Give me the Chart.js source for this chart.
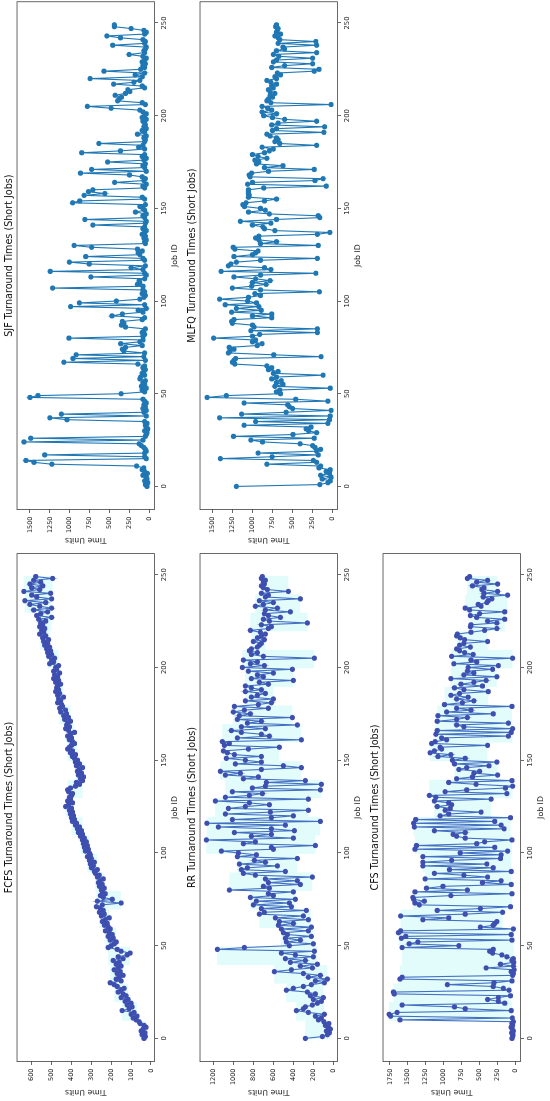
<!DOCTYPE html>
<html>
<head>
<meta charset="utf-8">
<title>Turnaround Times (Short Jobs)</title>
<script src="https://cdn.jsdelivr.net/npm/chart.js@4.4.1/dist/chart.umd.min.js"></script>
<style>
  html, body { margin: 0; padding: 0; background: #fff; overflow: hidden; }
  /* the figure is laid out landscape, then turned a quarter turn to the left */
  #figure {
    position: absolute; left: 0; top: 0;
    width: 1101px; height: 550px;
    transform-origin: 0 0;
    transform: translateY(1101px) rotate(-90deg);
    background: #fff;
  }
  #figure canvas { position: absolute; }
</style>
</head>
<body>
<div id="figure">
  <canvas id="chartFCFS" width="552" height="181" style="left:0px;top:0px"></canvas>
  <canvas id="chartSJF"  width="549" height="181" style="left:552px;top:0px"></canvas>
  <canvas id="chartRR"   width="552" height="181" style="left:0px;top:183px"></canvas>
  <canvas id="chartMLFQ" width="549" height="181" style="left:552px;top:183px"></canvas>
  <canvas id="chartCFS"  width="552" height="181" style="left:0px;top:366px"></canvas>
</div>
<script>
// Job IDs 0..249
const jobIds = Array.from({ length: 250 }, (_, i) => i);
const jobTicks = [0, 50, 100, 150, 200, 250];

const fcfsTicks = [0, 100, 200, 300, 400, 500, 600];
const rrTicks = [0, 200, 400, 600, 800, 1000, 1200];
const cfsTicks = [0, 250, 500, 750, 1000, 1250, 1500, 1750];
const sjfTicks = [0, 250, 500, 750, 1000, 1250, 1500];
const mlfqTicks = [0, 250, 500, 750, 1000, 1250, 1500];

// Turnaround times (10 jobs per row)
const fcfsTimes = [
  35, 28, 45, 30, 50, 40, 25, 35, 55, 60,
  75, 90, 70, 100, 85, 145, 110, 95, 120, 100,
  130, 115, 150, 125, 140, 165, 150, 135, 170, 185,
  205, 150, 175, 160, 140, 170, 155, 185, 165, 150,
  175, 160, 190, 140, 165, 120, 105, 150, 170, 215,
  200, 185, 175, 205, 190, 215, 195, 210, 230, 205,
  215, 235, 220, 245, 230, 210, 250, 235, 260, 240,
  255, 275, 245, 150, 270, 195, 240, 255, 230, 245,
  250, 235, 260, 245, 265, 255, 240, 270, 260, 280,
  285, 270, 300, 290, 305, 285, 310, 300, 320, 305,
  310, 330, 315, 335, 320, 340, 325, 345, 335, 355,
  345, 365, 350, 370, 360, 380, 375, 395, 385, 400,
  390, 405, 395, 410, 400, 430, 415, 395, 420, 405,
  410, 400, 395, 415, 420, 405, 380, 360, 375, 345,
  355, 340, 365, 350, 370, 360, 345, 375, 360, 380,
  370, 385, 395, 380, 405, 395, 420, 410, 400, 385,
  395, 410, 400, 420, 405, 385, 415, 430, 410, 425,
  420, 405, 435, 415, 440, 425, 455, 430, 460, 445,
  450, 470, 455, 465, 440, 470, 460, 480, 465, 475,
  470, 455, 480, 465, 490, 470, 485, 460, 490, 475,
  480, 465, 510, 490, 500, 485, 515, 500, 520, 505,
  525, 510, 535, 520, 540, 515, 545, 530, 560, 540,
  550, 535, 560, 545, 555, 530, 565, 500, 575, 555,
  520, 590, 500, 560, 610, 530, 635, 500, 575, 600,
  505, 640, 560, 600, 545, 610, 555, 590, 495, 580
];

const rrTimes = [
  280, 110, 60, 40, 70, 30, 50, 80, 45, 95,
  150, 120, 180, 90, 250, 370, 300, 280, 210, 160,
  120, 200, 100, 230, 180, 260, 470, 400, 300, 220,
  90, 180, 60, 250, 130, 300, 590, 420, 210, 330,
  160, 430, 280, 480, 200, 380, 520, 190, 1160, 890,
  440, 200, 470, 330, 480, 220, 460, 500, 250, 520,
  220, 550, 400, 540, 250, 580, 300, 740, 690, 270,
  720, 420, 800, 440, 770, 380, 830, 600, 650, 400,
  1040, 640, 700, 330, 650, 360, 680, 210, 780, 900,
  480, 920, 860, 560, 940, 680, 790, 360, 960, 770,
  950, 1120, 600, 620, 180, 900, 780, 1270, 400, 820,
  620, 990, 390, 620, 1150, 480, 1265, 130, 1010, 620,
  400, 1080, 630, 250, 1050, 880, 640, 840, 1180, 250,
  1080, 840, 710, 1010, 130, 810, 680, 120, 670, 280,
  900, 750, 1080, 930, 1130, 720, 320, 500, 980, 720,
  880, 1070, 720, 990, 1060, 1100, 850, 540, 1090, 1040,
  1110, 320, 960, 640, 720, 920, 1020, 680, 920, 360,
  860, 720, 960, 410, 940, 830, 1000, 890, 650, 990,
  750, 620, 880, 600, 820, 760, 680, 880, 720, 820,
  880, 650, 740, 400, 820, 700, 760, 600, 850, 410,
  910, 690, 830, 760, 900, 190, 700, 820, 760, 840,
  820, 760, 740, 720, 800, 690, 760, 720, 680, 730,
  830, 650, 620, 720, 260, 640, 700, 530, 650, 690,
  430, 680, 560, 780, 700, 600, 740, 330, 680, 650,
  720, 450, 660, 700, 720, 690, 700, 680, 720, 710
];

const cfsTimes = [
  50, 40, 35, 55, 30, 45, 60, 40, 50, 30,
  1610, 45, 1740, 1760, 1650, 60, 700, 850, 1580, 150,
  240, 390, 240, 70, 1690, 1700, 90, 170, 310, 950,
  300, 50, 1610, 1580, 40, 30, 60, 20, 410, 30,
  210, 25, 50, 30, 120, 190, 320, 360, 310, 1580,
  790, 1480, 1360, 50, 1590, 1530, 60, 1630, 1600, 30,
  490, 310, 290, 260, 1290, 930, 1600, 700, 180, 1090,
  490, 70, 1340, 1400, 1270, 1420, 1430, 900, 50, 1400,
  670, 1240, 1010, 60, 460, 200, 1260, 390, 720, 1130,
  60, 920, 310, 1290, 400, 1290, 890, 210, 1290, 200,
  770, 110, 1400, 290, 1380, 540, 430, 50, 700, 820,
  870, 700, 1130, 160, 1410, 200, 1420, 290, 1390, 70,
  1050, 930, 480, 980, 910, 1090, 890, 930, 1130, 340,
  1110, 1200, 120, 980, 680, 140, 40, 550, 930, 50,
  820, 600, 250, 580, 500, 790, 680, 370, 850, 260,
  880, 700, 1080, 900, 1190, 1130, 1030, 1050, 390, 1170,
  1120, 960, 1030, 100, 1110, 60, 1090, 40, 720, 820,
  100, 1090, 820, 670, 1080, 310, 960, 620, 820, 50,
  990, 740, 580, 820, 660, 900, 780, 380, 720, 850,
  460, 760, 580, 410, 900, 260, 720, 580, 670, 320,
  660, 240, 860, 540, 620, 40, 890, 590, 710, 780,
  820, 630, 780, 720, 390, 710, 770, 820, 810, 620,
  430, 260, 630, 620, 260, 390, 150, 540, 630, 500,
  150, 640, 700, 480, 520, 400, 380, 330, 450, 110,
  440, 250, 470, 440, 600, 250, 540, 390, 670, 640
];

const sjfTimes = [
  30, 50, 20, 60, 30, 40, 80, 25, 60, 90,
  70, 160, 1225, 1450, 1550, 40, 60, 1315, 60, 40,
  50, 70, 100, 130, 1575, 80, 1490, 50, 40, 30,
  60, 20, 40, 50, 30, 60, 1035, 1250, 40, 1105,
  70, 40, 80, 50, 70, 40, 60, 80, 1500, 1400,
  355, 60, 90, 40, 100, 60, 80, 50, 120, 110,
  60, 90, 70, 50, 80, 60, 145, 1075, 50, 960,
  70, 920, 60, 320, 340, 300, 90, 360, 120, 80,
  1010, 80, 60, 90, 70, 50, 300, 350, 320, 340,
  90, 60, 470, 340, 80, 140, 40, 990, 60, 880,
  415, 120, 70, 50, 90, 60, 80, 1215, 80, 150,
  120, 130, 60, 735, 40, 60, 1245, 80, 230, 50,
  755, 1005, 60, 80, 800, 120, 140, 90, 150, 725,
  945, 50, 60, 40, 70, 50, 90, 60, 40, 80,
  60, 710, 50, 40, 810, 60, 80, 40, 175, 60,
  80, 120, 50, 965, 875, 60, 90, 820, 560, 765,
  710, 60, 80, 40, 437, 70, 50, 90, 250, 865,
  40, 725, 60, 80, 50, 525, 70, 40, 90, 60,
  850, 363, 60, 135, 80, 635, 60, 50, 70, 40,
  150, 60, 90, 40, 70, 50, 60, 80, 40, 90,
  60, 40, 80, 120, 480, 780, 50, 90, 400, 380,
  350, 430, 300, 245, 270, 60, 90, 450, 195, 120,
  745, 90, 180, 60, 570, 110, 60, 80, 50, 90,
  60, 40, 80, 255, 60, 70, 50, 40, 460, 60,
  50, 80, 363, 535, 60, 40, 70, 230, 440, 440
];

const mlfqTimes = [
  1200, 160, 60, 30, 130, 20, 150, 40, 80, 30,
  170, 150, 820, 200, 240, 1400, 755, 180, 930, 200,
  150, 220, 250, 405, 875, 1020, 230, 1237, 495, 200,
  300, 330, 270, 1105, 60, 960, 40, 1410, 30, 1135,
  580, 20, 500, 540, 560, 1105, 60, 460, 1565, 1325,
  650, 700, 660, 30, 720, 620, 700, 640, 760, 700,
  120, 740, 680, 800, 760, 820, 1220, 1250, 1230, 1210,
  145, 735, 1300, 1280, 1230, 1290, 940, 880, 1000, 960,
  1485, 1000, 910, 190, 1020, 190, 980, 1000, 1250, 1260,
  1230, 760, 1000, 760, 1260, 890, 1200, 920, 1340, 950,
  1060, 1410, 1050, 900, 970, 166, 900, 1250, 1010, 830,
  1000, 780, 960, 1230, 900, 210, 1390, 770, 850, 1300,
  1270, 1200, 900, 190, 1230, 1000, 960, 930, 1220, 1240,
  180, 900, 700, 920, 960, 920, 190, 35, 720, 850,
  870, 1000, 770, 1150, 700, 160, 180, 790, 1050, 840,
  900, 1100, 1120, 1080, 850, 700, 1050, 1040, 1050, 1050,
  1050, 860, 80, 1060, 1000, 220, 120, 1030, 1040, 1010,
  800, 230, 850, 620, 950, 920, 970, 820, 930, 1000,
  850, 790, 740, 880, 200, 660, 720, 680, 700, 780,
  820, 110, 750, 700, 100, 760, 680, 200, 600, 750,
  860, 700, 880, 760, 810, 880, 20, 770, 820, 800,
  750, 780, 720, 780, 800, 740, 760, 700, 770, 820,
  700, 720, 650, 690, 230, 170, 760, 600, 250, 740,
  700, 250, 670, 740, 200, 700, 600, 620, 200, 680,
  210, 660, 680, 720, 650, 700, 690, 680, 710, 700
];

Chart.defaults.font.family = "'DejaVu Sans', sans-serif";
Chart.defaults.color = '#222';
Chart.defaults.animation = false;

// frame round the plot area, like matplotlib spines
const frame = {
  id: 'frame',
  afterDraw(chart) {
    const { ctx, chartArea: a } = chart;
    ctx.save();
    ctx.strokeStyle = '#444';
    ctx.lineWidth = 0.8;
    ctx.strokeRect(a.left, a.top, a.right - a.left, a.bottom - a.top);
    ctx.restore();
  }
};

// light cyan envelope per block of 10 jobs (min..max of the block)
function blockBand(values, size) {
  const lower = [], upper = [];
  for (let s = 0; s < values.length; s += size) {
    const blk = values.slice(s, s + size);
    const lo = Math.min(...blk), hi = Math.max(...blk);
    const x0 = jobIds[s] - 0.5, x1 = jobIds[s + blk.length - 1] + 0.5;
    lower.push({ x: x0, y: lo }, { x: x1, y: lo });
    upper.push({ x: x0, y: hi }, { x: x1, y: hi });
  }
  return { lower, upper };
}

function crearPanel(id, title, values, yTicks, yMin, yMax, withBand, rightPad) {
  const points = jobIds.map((j, i) => ({ x: j, y: values[i] }));
  const datasets = [];

  if (withBand) {
    datasets.push({
      data: points,
      order: 0,
      borderColor: '#4470c2',
      borderWidth: 1.1,
      pointRadius: 2.6,
      pointBackgroundColor: '#3f4fb0',
      pointBorderColor: '#3f4fb0',
      pointBorderWidth: 0,
      tension: 0
    });
    const band = blockBand(values, 10);
    datasets.push({
      data: band.lower, order: 1, borderWidth: 0, pointRadius: 0, fill: false
    });
    datasets.push({
      data: band.upper, order: 1, borderWidth: 0, pointRadius: 0,
      fill: '-1', backgroundColor: '#e2fcfc'
    });
  } else {
    datasets.push({
      data: points,
      borderColor: '#1f77b4',
      borderWidth: 1.1,
      pointRadius: 2.6,
      pointBackgroundColor: '#1f77b4',
      pointBorderColor: '#1f77b4',
      pointBorderWidth: 0,
      tension: 0
    });
  }

  const gridOpts = { drawOnChartArea: false, tickLength: 3.5, color: '#444', lineWidth: 0.8 };

  new Chart(document.getElementById(id), {
    type: 'line',
    data: { datasets },
    options: {
      responsive: false,
      animation: false,
      events: [],
      layout: { autoPadding: false, padding: { left: 0, right: rightPad, top: 0, bottom: 0 } },
      plugins: {
        legend: { display: false },
        tooltip: { enabled: false },
        title: {
          display: true,
          text: title,
          fullSize: false,
          font: { size: 9.6, weight: 'normal' },
          color: '#111',
          padding: { top: 3.9, bottom: 1.6 }
        }
      },
      scales: {
        x: {
          type: 'linear',
          min: -12.45,
          max: 261.45,
          afterBuildTicks: s => { s.ticks = jobTicks.map(v => ({ value: v })); },
          afterFit: s => { s.height = 26.5; },
          grid: gridOpts,
          border: { display: false },
          ticks: { padding: 2.3, font: { size: 6.8 }, maxRotation: 0, autoSkip: false,
                   callback: v => String(v) },
          title: { display: true, text: 'Job ID', font: { size: 7.8 },
                   padding: { top: 0, bottom: 1.2 } }
        },
        y: {
          type: 'linear',
          min: yMin,
          max: yMax,
          afterBuildTicks: s => { s.ticks = yTicks.map(v => ({ value: v })); },
          afterFit: s => { s.width = 39.5; },
          grid: gridOpts,
          border: { display: false },
          ticks: { padding: 3.5, font: { size: 6.5 }, autoSkip: false,
                   callback: v => String(v) },
          title: { display: true, text: 'Time Units', font: { size: 7.8 },
                   padding: { top: 4.3, bottom: 0 } }
        }
      }
    },
    plugins: [frame]
  });
}

crearPanel('chartFCFS', 'FCFS Turnaround Times (Short Jobs)', fcfsTimes, fcfsTicks, -18, 674, true, 4.5);
crearPanel('chartRR', 'RR Turnaround Times (Short Jobs)', rrTimes, rrTicks, -42, 1333, true, 4.5);
crearPanel('chartCFS', 'CFS Turnaround Times (Short Jobs)', cfsTimes, cfsTicks, -70, 1845, true, 4.5);
crearPanel('chartSJF', 'SJF Turnaround Times (Short Jobs)', sjfTimes, sjfTicks, -65, 1662, false, 1.75);
crearPanel('chartMLFQ', 'MLFQ Turnaround Times (Short Jobs)', mlfqTimes, mlfqTicks, -61, 1653, false, 1.75);
</script>
</body>
</html>
